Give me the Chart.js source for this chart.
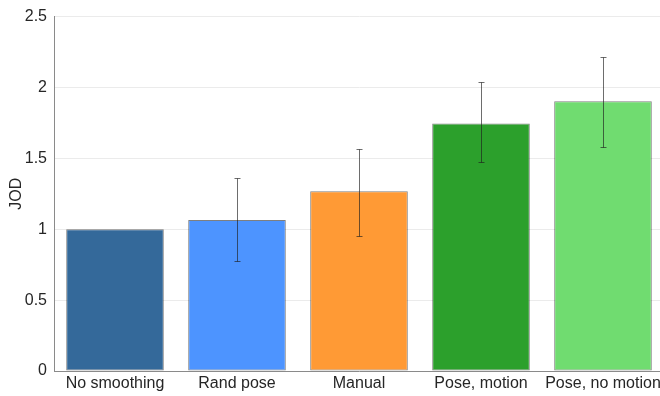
<!DOCTYPE html>
<html>
<head>
<meta charset="utf-8">
<script src="https://cdn.jsdelivr.net/npm/chart.js@4/dist/chart.umd.min.js"></script>
<style>
  html, body { margin: 0; padding: 0; background: #fff; overflow: hidden; }
  #wrap { width: 664px; height: 396px; }
</style>
</head>
<body>
<div id="wrap"><canvas id="c"></canvas></div>
<script>
// Conditions compared in the study
const categories = ['No smoothing', 'Rand pose', 'Manual', 'Pose, motion', 'Pose, no motion'];
// Mean JOD score per condition
const jodValues = [1.0, 1.065, 1.268, 1.746, 1.903];
// Confidence interval bounds (null where no interval is shown)
const ciLow  = [null, 0.775, 0.950, 1.473, 1.580];
const ciHigh = [null, 1.361, 1.569, 2.036, 2.218];
// Y axis tick labels
const yTicks = [0, 0.5, 1, 1.5, 2, 2.5];

const barColors = ['#34699a', '#4d94ff', '#ff9a35', '#2ca02c', '#70dc70'];

// Draws vertical interval whiskers with small caps over each bar
const errorBars = {
  id: 'errorBars',
  afterDatasetsDraw(chart) {
    const ctx = chart.ctx;
    const meta = chart.getDatasetMeta(0);
    const y = chart.scales.y;
    ctx.save();
    ctx.strokeStyle = 'rgba(30,30,30,0.65)';
    ctx.lineWidth = 1;
    meta.data.forEach((bar, i) => {
      if (ciLow[i] == null) return;
      const x = Math.round(bar.x) + 0.5;
      const yLo = Math.round(y.getPixelForValue(ciLow[i])) + 0.5;
      const yHi = Math.round(y.getPixelForValue(ciHigh[i])) + 0.5;
      ctx.beginPath();
      ctx.moveTo(x, yLo); ctx.lineTo(x, yHi);
      ctx.moveTo(x - 3, yLo); ctx.lineTo(x + 3, yLo);
      ctx.moveTo(x - 3, yHi); ctx.lineTo(x + 3, yHi);
      ctx.stroke();
    });
    ctx.restore();
  }
};

const font = { family: '"Liberation Sans", Arial, Helvetica, sans-serif', size: 16 };

new Chart(document.getElementById('c'), {
  type: 'bar',
  data: {
    labels: categories,
    datasets: [{
      data: jodValues,
      backgroundColor: barColors,
      borderColor: 'rgba(0,0,0,0.5)',
      borderWidth: 1,
      borderSkipped: false,
      categoryPercentage: 1.0,
      barPercentage: 0.8
    }]
  },
  options: {
    responsive: true,
    maintainAspectRatio: false,
    animation: false,
    layout: { padding: { top: 14, right: 0, left: 0, bottom: 0 } },
    plugins: { legend: { display: false }, tooltip: { enabled: false } },
    scales: {
      x: {
        grid: { display: false, drawTicks: false },
        border: { display: true, color: '#8a8a8a', width: 1 },
        ticks: { color: '#262626', font: font, padding: 3, maxRotation: 0, autoSkip: false },
        afterFit(scale) { scale.height = 25; }
      },
      y: {
        min: 0,
        max: 2.5,
        afterBuildTicks(scale) { scale.ticks = yTicks.map(v => ({ value: v })); },
        grid: { color: '#ebebeb', drawTicks: false },
        border: { display: true, color: '#8a8a8a', width: 1 },
        ticks: { color: '#262626', font: font, padding: 7, callback: v => String(v) },
        title: {
          display: true,
          text: 'JOD',
          color: '#262626',
          font: { family: font.family, size: 16 },
          padding: { top: 7, bottom: 0 }
        },
        afterFit(scale) { scale.width = 54; }
      }
    }
  },
  plugins: [errorBars]
});
</script>
</body>
</html>
